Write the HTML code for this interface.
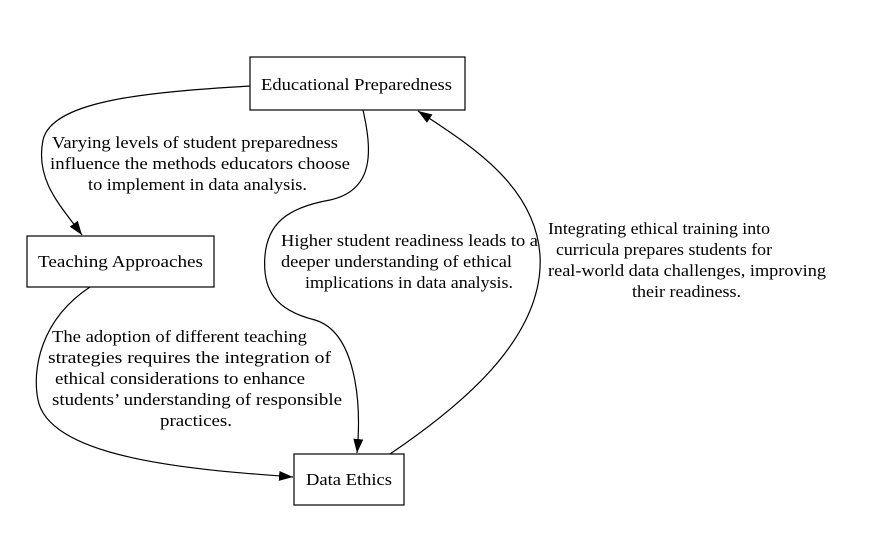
<!DOCTYPE html>
<html><head><meta charset="utf-8"><style>
html,body{margin:0;padding:0;background:#fff;}
svg text{font-family:"Liberation Serif",serif;font-size:17px;fill:#000;}
</style></head><body>
<svg width="872" height="529" viewBox="0 0 872 529" xmlns="http://www.w3.org/2000/svg">
<defs>
<marker id="a" markerWidth="14" markerHeight="10" refX="14" refY="5" orient="auto" markerUnits="userSpaceOnUse">
<path d="M0,0 L14,5 L0,10 Z" fill="#000"/>
</marker>
</defs>
<g fill="none" stroke="#000" stroke-width="1.2">
<rect x="250" y="57" width="215" height="53" fill="#fff"/>
<rect x="27" y="236" width="187" height="51" fill="#fff"/>
<rect x="294" y="454" width="110" height="51" fill="#fff"/>
<path d="M250,86 C150,92 52,100 43,140 C35,180 60,205 82,235" marker-end="url(#a)"/>
<path d="M363,110 C372,150 375,190 330,200 C285,208 268,225 265,255 C262,290 275,310 315,320 C355,332 362,400 357,453" marker-end="url(#a)"/>
<path d="M390,454 C455,410 545,340 540,255 C535,185 470,145 418,111" marker-end="url(#a)"/>
<path d="M90,287 C40,320 32,370 38,400 C50,460 200,470 293,477" marker-end="url(#a)"/>
</g>
<g>
<text x="261" y="90" textLength="191" lengthAdjust="spacingAndGlyphs">Educational Preparedness</text>
<text x="38" y="267" textLength="165" lengthAdjust="spacingAndGlyphs">Teaching Approaches</text>
<text x="306" y="485" textLength="86" lengthAdjust="spacingAndGlyphs">Data Ethics</text>
<text x="52" y="148" textLength="286" lengthAdjust="spacingAndGlyphs">Varying levels of student preparedness</text>
<text x="50" y="169" textLength="300" lengthAdjust="spacingAndGlyphs">influence the methods educators choose</text>
<text x="88" y="190" textLength="219" lengthAdjust="spacingAndGlyphs">to implement in data analysis.</text>
<text x="281" y="246" textLength="257" lengthAdjust="spacingAndGlyphs">Higher student readiness leads to a</text>
<text x="281" y="267" textLength="231" lengthAdjust="spacingAndGlyphs">deeper understanding of ethical</text>
<text x="305" y="288" textLength="208" lengthAdjust="spacingAndGlyphs">implications in data analysis.</text>
<text x="548" y="234" textLength="222" lengthAdjust="spacingAndGlyphs">Integrating ethical training into</text>
<text x="556" y="255" textLength="216" lengthAdjust="spacingAndGlyphs">curricula prepares students for</text>
<text x="548" y="276" textLength="278" lengthAdjust="spacingAndGlyphs">real-world data challenges, improving</text>
<text x="632" y="297" textLength="109" lengthAdjust="spacingAndGlyphs">their readiness.</text>
<text x="52" y="342" textLength="255" lengthAdjust="spacingAndGlyphs">The adoption of different teaching</text>
<text x="48" y="363" textLength="283" lengthAdjust="spacingAndGlyphs">strategies requires the integration of</text>
<text x="55" y="384" textLength="250" lengthAdjust="spacingAndGlyphs">ethical considerations to enhance</text>
<text x="52" y="405" textLength="290" lengthAdjust="spacingAndGlyphs">students’ understanding of responsible</text>
<text x="160" y="426" textLength="72" lengthAdjust="spacingAndGlyphs">practices.</text>
</g>
</svg>
</body></html>
